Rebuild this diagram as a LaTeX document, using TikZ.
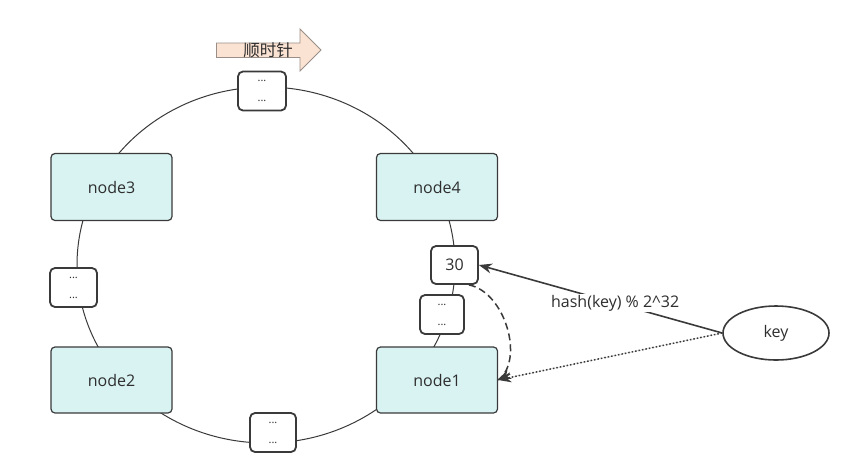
\documentclass[tikz,border=0pt]{standalone}
\usepackage{fontspec}
\setmainfont{Open Sans}
\newfontfamily\cjkfont{Noto Sans CJK SC}
\usetikzlibrary{arrows.meta,shapes.geometric}
\definecolor{nodefill}{HTML}{D9F3F3}
\definecolor{nodeborder}{HTML}{3A3A3A}
\definecolor{arrowfill}{HTML}{FBE3D3}
\definecolor{arrowborder}{HTML}{9A8F88}
\definecolor{txt}{HTML}{2E2E2E}
\tikzset{
  x=1pt, y=-1pt,
  server/.style={draw=nodeborder, fill=nodefill, line width=1.2pt, rounded corners=4pt,
    inner sep=0pt, font=\fontsize{16}{18}\selectfont, text=txt},
  dotbox/.style={draw=nodeborder, fill=white, line width=1.8pt, rounded corners=5pt,
    inner sep=0pt, align=center, font=\fontsize{11}{22}\selectfont, text=txt},
  valbox/.style={draw=nodeborder, fill=white, line width=1.8pt, rounded corners=5pt,
    inner sep=0pt, font=\fontsize{16}{18}\selectfont, text=txt},
  ring/.style={draw=nodeborder, line width=1pt},
  tip/.style={-{Stealth[length=13pt,width=10pt]}},
}
\begin{document}
\begin{tikzpicture}
\useasboundingbox (0,0) rectangle (866,469);
% ring
\draw[ring] (266,265) ellipse [x radius=189, y radius=178];
% clockwise block arrow
\draw[draw=arrowborder, fill=arrowfill, line width=0.8pt]
  (216.5,43) -- (300,43) -- (300,29) -- (321,50) -- (300,71) -- (300,57.5) -- (216.5,57.5) -- cycle;
\node[font=\cjkfont\fontsize{16.5}{18}\selectfont, text=txt] (cw) at (268,50) {顺时针};
% servers
\node[server, minimum width=121, minimum height=67] (n3) at (111.5,187) {node3};
\node[server, minimum width=121, minimum height=67] (n4) at (437,187) {node4};
\node[server, minimum width=121, minimum height=66] (n2) at (111.5,380) {node2};
\node[server, minimum width=121, minimum height=66] (n1) at (437,380) {node1};
% dot boxes
\node[dotbox, minimum width=48, minimum height=39] (dt) at (262,91) {\raisebox{-2pt}{...}\\...};
\node[dotbox, minimum width=47, minimum height=39] (dl) at (73.5,287.5) {\raisebox{-2pt}{...}\\...};
\node[dotbox, minimum width=46, minimum height=39] (db) at (273,432.5) {\raisebox{-2pt}{...}\\...};
\node[dotbox, minimum width=44, minimum height=39] (dr) at (442,314.5) {\raisebox{-2pt}{...}\\...};
\node[valbox, minimum width=47, minimum height=38] (v30) at (454.5,265) {30};
% key
\node[draw=nodeborder, line width=1.6pt, ellipse, minimum width=106, minimum height=54, inner sep=0pt,
  font=\fontsize{16}{18}\selectfont, text=txt] (key) at (776,333) {key};
% connectors
\draw[tip, line width=1.6pt, draw=nodeborder, fill=nodeborder] (key.west) --
  node[fill=white, inner sep=1pt, font=\fontsize{16}{18}\selectfont, text=txt, pos=0.44] (lbl) {hash(key) \% 2\^{}32}
  (v30.east);
\draw[tip, line width=1.5pt, dotted, draw=nodeborder, fill=nodeborder] (key.west) -- (n1.east);
\draw[line width=1.5pt, dash pattern=on 7pt off 4pt, draw=nodeborder] (v30.south east) ++(-10,0) coordinate (cs)
  .. controls (505,292) and (525,360) .. (n1.east);
\draw[tip, line width=1.5pt, draw=nodeborder, fill=nodeborder, solid] (510,374) -- (n1.east);
\end{tikzpicture}
\end{document}
